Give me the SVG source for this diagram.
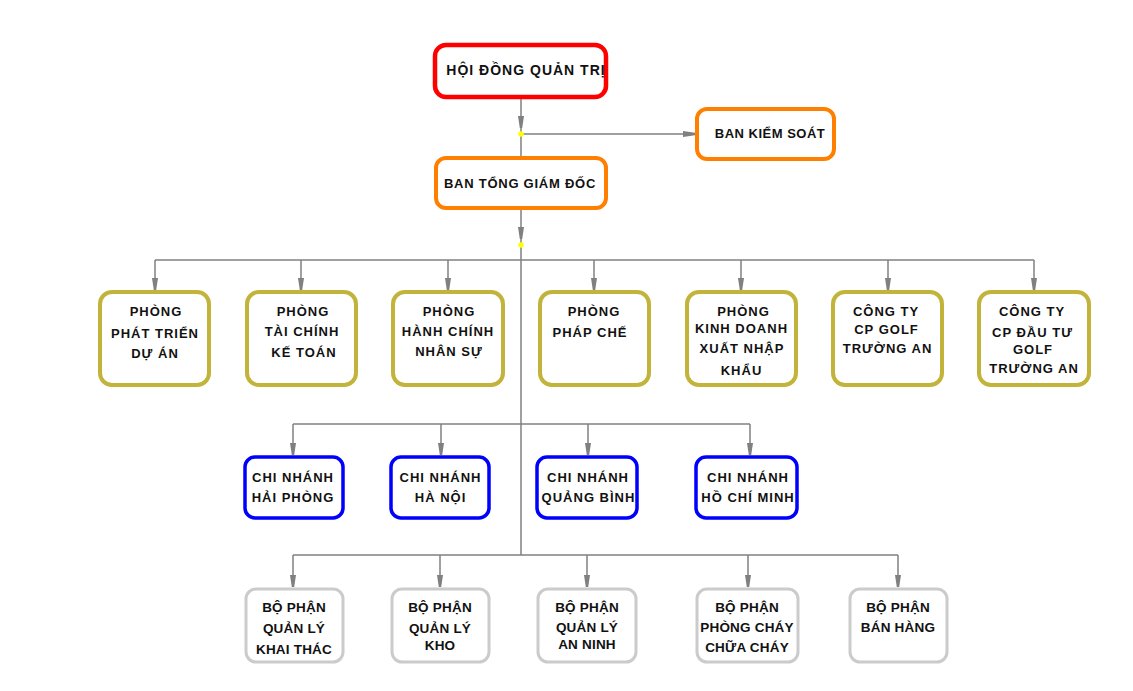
<svg xmlns="http://www.w3.org/2000/svg" width="1133" height="691" viewBox="0 0 1133 691">
<style>
.ln{stroke:#808080;stroke-width:1.5;fill:none}
.ar{marker-end:url(#ah)}
.box{fill:#fff}
.red{stroke:#ff0000;stroke-width:4.5}
.org{stroke:#ff8000;stroke-width:4}
.olv{stroke:#c2b43a;stroke-width:4}
.blu{stroke:#0000ff;stroke-width:3.5}
.gry{stroke:#cbcbcb;stroke-width:3}
.t{font-family:"Liberation Sans",Arial,sans-serif;font-weight:bold;font-size:13px;letter-spacing:1px;text-anchor:middle;fill:#111}
.t3{font-family:"Liberation Sans",Arial,sans-serif;font-weight:bold;font-size:13.5px;letter-spacing:0.2px;text-anchor:middle;fill:#111}
.dot{fill:#ffff00}
</style>
<defs>
<marker id="ah" markerUnits="userSpaceOnUse" markerWidth="14" markerHeight="8" refX="12" refY="4" orient="auto" viewBox="0 0 14 8">
<path d="M0,1 L12,2.8 L12,5.2 L0,7 Z" fill="#808080"/>
</marker>
</defs>
<g id="connectors">
<path class="ln ar" d="M521,97 V128"/>
<path class="ln" d="M521,128 V157"/>
<path class="ln ar" d="M521,134 H695"/>
<path class="ln ar" d="M521,208 V239"/>
<path class="ln" d="M521,239 V555"/>
<path class="ln" d="M155,260 H1034"/>
<path class="ln ar" d="M155,260 V290"/>
<path class="ln ar" d="M301,260 V290"/>
<path class="ln ar" d="M448,260 V290"/>
<path class="ln ar" d="M594,260 V290"/>
<path class="ln ar" d="M741,260 V290"/>
<path class="ln ar" d="M888,260 V290"/>
<path class="ln ar" d="M1034,260 V290"/>
<path class="ln" d="M293,424 H750"/>
<path class="ln ar" d="M293,424 V455"/>
<path class="ln ar" d="M441,424 V455"/>
<path class="ln ar" d="M588,424 V455"/>
<path class="ln ar" d="M750,424 V455"/>
<path class="ln" d="M293,555 H898"/>
<path class="ln ar" d="M293,555 V587"/>
<path class="ln ar" d="M440,555 V587"/>
<path class="ln ar" d="M587,555 V587"/>
<path class="ln ar" d="M748,555 V587"/>
<path class="ln ar" d="M898,555 V587"/>
<circle class="dot" cx="521" cy="134" r="2.8"/>
<circle class="dot" cx="521" cy="245" r="2.8"/>
</g>
<g id="hdqt"><rect class="box red" x="435" y="45" width="171" height="52" rx="11"/><text class="t" style="font-size:14px" x="526" y="75">HỘI ĐỒNG QUẢN TRỊ</text></g>
<g id="bks"><rect class="box org" x="697" y="109" width="137" height="50" rx="10"/><text class="t" style="letter-spacing:0.5px" x="770" y="138">BAN KIỂM SOÁT</text></g>
<g id="btgd"><rect class="box org" x="436" y="158" width="170" height="50" rx="10"/><text class="t" style="letter-spacing:0.75px" x="520" y="188">BAN TỔNG GIÁM ĐỐC</text></g>

<g id="p1"><rect class="box olv" x="100" y="292" width="109" height="93" rx="12"/><text class="t" x="155.5"><tspan x="156" y="316">PHÒNG</tspan><tspan x="155" y="338">PHÁT TRIỂN</tspan><tspan x="155" y="358">DỰ ÁN</tspan></text></g>
<g id="p2"><rect class="box olv" x="247" y="292" width="109" height="93" rx="12"/><text class="t"><tspan x="303" y="316">PHÒNG</tspan><tspan x="302" y="336">TÀI CHÍNH</tspan><tspan x="304" y="357">KẾ TOÁN</tspan></text></g>
<g id="p3"><rect class="box olv" x="393" y="292" width="110" height="93" rx="12"/><text class="t"><tspan x="449" y="316">PHÒNG</tspan><tspan x="448" y="336">HÀNH CHÍNH</tspan><tspan x="449" y="356">NHÂN SỰ</tspan></text></g>
<g id="p4"><rect class="box olv" x="540" y="292" width="109" height="93" rx="12"/><text class="t"><tspan x="594" y="316">PHÒNG</tspan><tspan x="590" y="337">PHÁP CHẾ</tspan></text></g>
<g id="p5"><rect class="box olv" x="687" y="292" width="109" height="93" rx="12"/><text class="t"><tspan x="743.5" y="316">PHÒNG</tspan><tspan x="741.5" y="333">KINH DOANH</tspan><tspan x="742" y="353">XUẤT NHẬP</tspan><tspan x="741.5" y="375">KHẨU</tspan></text></g>
<g id="p6"><rect class="box olv" x="833" y="292" width="109" height="93" rx="12"/><text class="t"><tspan x="886" y="316">CÔNG TY</tspan><tspan x="886.5" y="334">CP GOLF</tspan><tspan x="887.5" y="353">TRƯỜNG AN</tspan></text></g>
<g id="p7"><rect class="box olv" x="979" y="292" width="110" height="93" rx="12"/><text class="t"><tspan x="1032" y="316">CÔNG TY</tspan><tspan x="1032.5" y="337">CP ĐẦU TƯ</tspan><tspan x="1033" y="354">GOLF</tspan><tspan x="1034" y="373">TRƯỜNG AN</tspan></text></g>

<g id="cn1"><rect class="box blu" x="245" y="457" width="98" height="61" rx="10"/><text class="t"><tspan x="293" y="482">CHI NHÁNH</tspan><tspan x="293" y="502">HẢI PHÒNG</tspan></text></g>
<g id="cn2"><rect class="box blu" x="391" y="457" width="98" height="61" rx="10"/><text class="t"><tspan x="440.5" y="482">CHI NHÁNH</tspan><tspan x="440.5" y="502">HÀ NỘI</tspan></text></g>
<g id="cn3"><rect class="box blu" x="537" y="457" width="100" height="61" rx="10"/><text class="t"><tspan x="588" y="482">CHI NHÁNH</tspan><tspan x="588.5" y="502">QUẢNG BÌNH</tspan></text></g>
<g id="cn4"><rect class="box blu" x="696" y="457" width="101" height="61" rx="10"/><text class="t"><tspan x="748" y="482">CHI NHÁNH</tspan><tspan x="748" y="502">HỒ CHÍ MINH</tspan></text></g>

<g id="bp1"><rect class="box gry" x="246" y="589" width="97" height="73" rx="10"/><text class="t3"><tspan x="294" y="612">BỘ PHẬN</tspan><tspan x="294" y="633">QUẢN LÝ</tspan><tspan x="294" y="654">KHAI THÁC</tspan></text></g>
<g id="bp2"><rect class="box gry" x="392" y="589" width="97" height="73" rx="10"/><text class="t3"><tspan x="440" y="612">BỘ PHẬN</tspan><tspan x="440" y="633">QUẢN LÝ</tspan><tspan x="440" y="650">KHO</tspan></text></g>
<g id="bp3"><rect class="box gry" x="538" y="589" width="98" height="73" rx="10"/><text class="t3"><tspan x="587" y="612">BỘ PHẬN</tspan><tspan x="587" y="632">QUẢN LÝ</tspan><tspan x="587" y="649">AN NINH</tspan></text></g>
<g id="bp4"><rect class="box gry" x="697" y="589" width="101" height="73" rx="10"/><text class="t3"><tspan x="747" y="612">BỘ PHẬN</tspan><tspan x="747" y="632">PHÒNG CHÁY</tspan><tspan x="747" y="652">CHỮA CHÁY</tspan></text></g>
<g id="bp5"><rect class="box gry" x="850" y="589" width="97" height="73" rx="10"/><text class="t3"><tspan x="898" y="612">BỘ PHẬN</tspan><tspan x="898" y="632">BÁN HÀNG</tspan></text></g>
</svg>
